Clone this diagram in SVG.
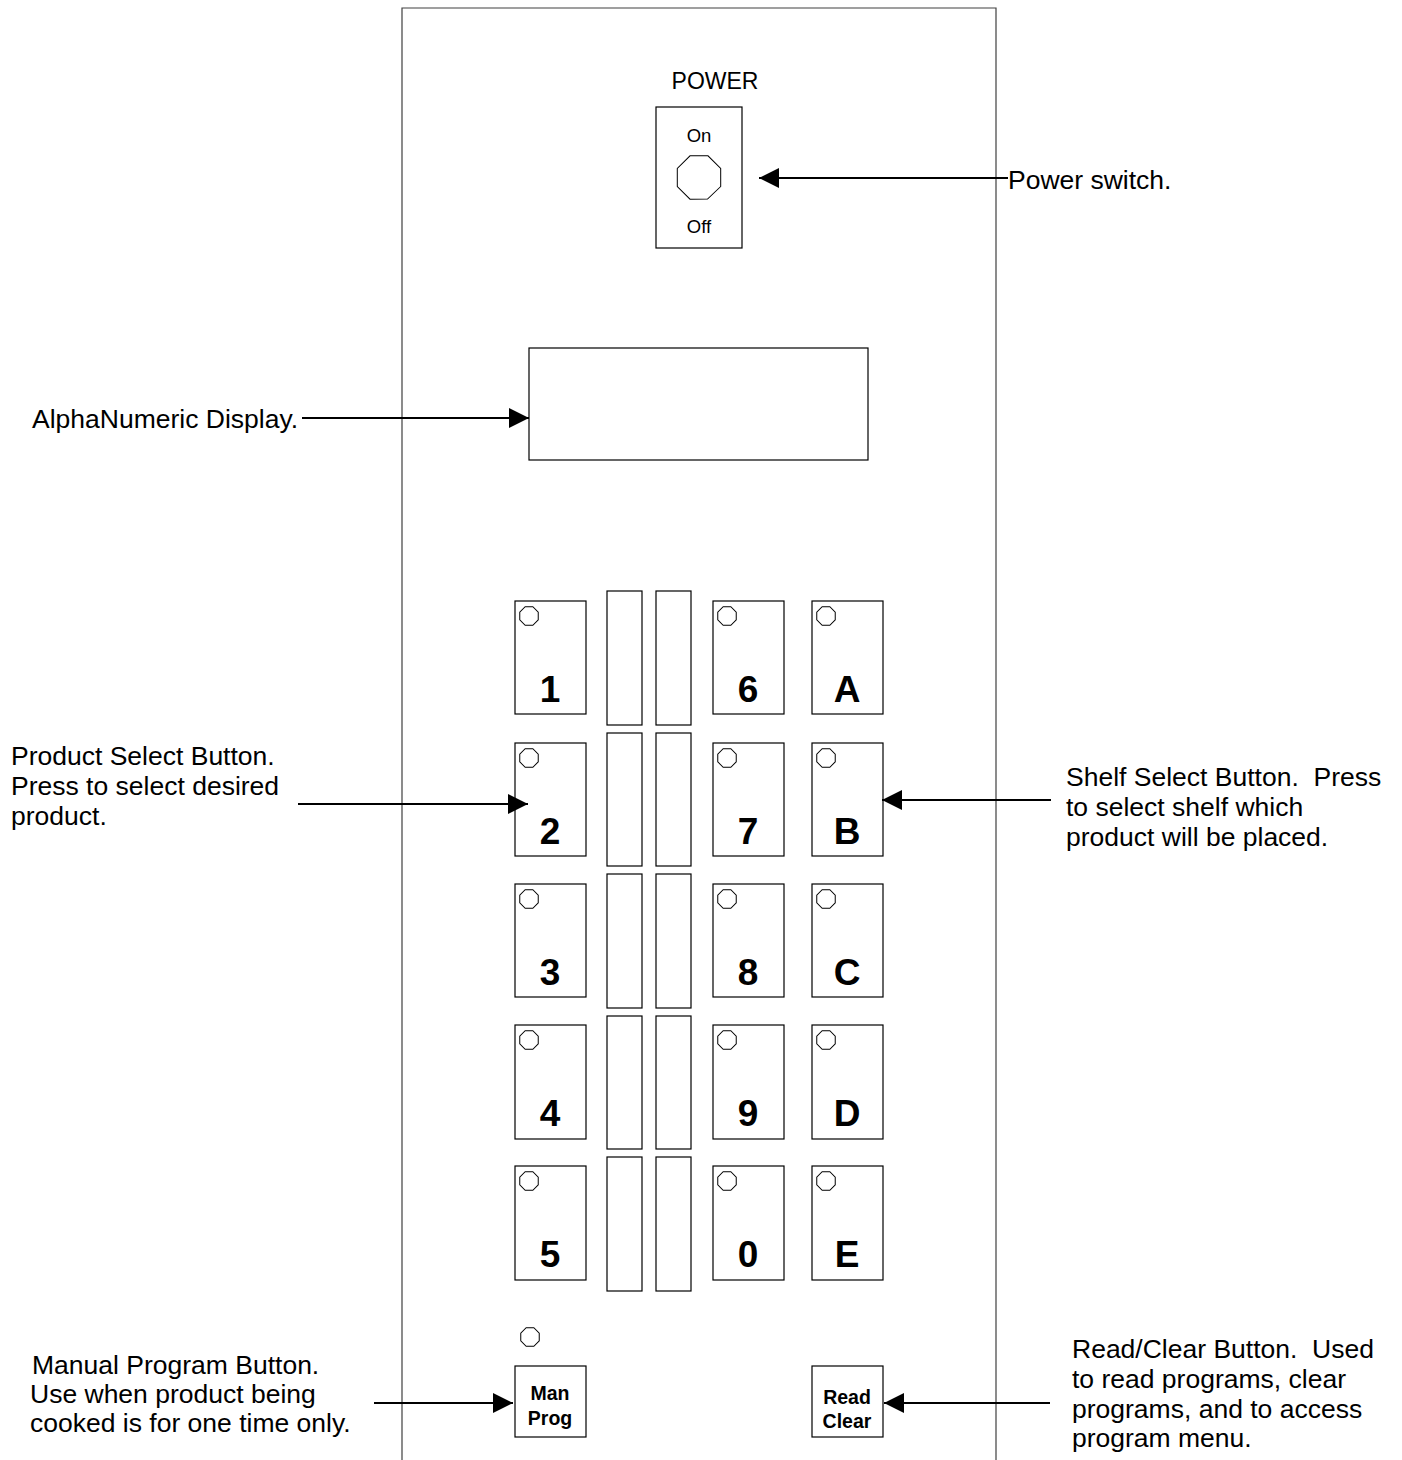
<svg xmlns="http://www.w3.org/2000/svg" width="1402" height="1460" viewBox="0 0 1402 1460">
<style>
.box{fill:#fff;stroke:#000;stroke-width:1.2}
.led{fill:#fff;stroke:#000;stroke-width:1}
.lbl{font-family:"Liberation Sans",Arial,sans-serif;font-size:26.5px;fill:#000;white-space:pre}
.key{font-family:"Liberation Sans",Arial,sans-serif;font-size:37px;font-weight:bold;fill:#000;text-anchor:middle}
.small{font-family:"Liberation Sans",Arial,sans-serif;font-size:19.5px;font-weight:bold;fill:#000;text-anchor:middle}
.conn{stroke:#000;stroke-width:2;fill:none;marker-end:url(#ah)}
</style>
<defs>
<marker id="ah" markerUnits="userSpaceOnUse" markerWidth="22" markerHeight="20" refX="20" refY="10" orient="auto">
<path d="M0,0 L20,10 L0,20 Z" fill="#000"/>
</marker>
<polygon id="oct" points="10,0 7.07,7.07 0,10 -7.07,7.07 -10,0 -7.07,-7.07 0,-10 7.07,-7.07" transform="rotate(22.5)"/>
</defs>
<rect width="1402" height="1460" fill="#fff"/>
<g id="panel">
<path d="M402,1460 V8 H996 V1460" fill="none" stroke="#404040" stroke-width="1.2"/>
</g>
<g id="power">
<text class="lbl" x="715" y="89" text-anchor="middle" style="font-size:23px">POWER</text>
<rect class="box" x="656" y="107" width="86" height="141"/>
<text class="lbl" x="699" y="142" text-anchor="middle" style="font-size:18.5px">On</text>
<text class="lbl" x="699" y="233" text-anchor="middle" style="font-size:18.5px">Off</text>
<polygon class="led" points="722.5,177.5 715.1,194.1 699,201 682.4,194.1 675.5,177.5 682.4,160.9 699,154 715.6,160.9" transform="rotate(22.5 699 177.5)"/>
</g>
<g id="display">
<rect class="box" x="529" y="348" width="339" height="112"/>
</g>
<g id="slots">
<rect class="box" x="607" y="591" width="35" height="134"/>
<rect class="box" x="656" y="591" width="35" height="134"/>
<rect class="box" x="607" y="733" width="35" height="133"/>
<rect class="box" x="656" y="733" width="35" height="133"/>
<rect class="box" x="607" y="874" width="35" height="134"/>
<rect class="box" x="656" y="874" width="35" height="134"/>
<rect class="box" x="607" y="1016" width="35" height="133"/>
<rect class="box" x="656" y="1016" width="35" height="133"/>
<rect class="box" x="607" y="1157" width="35" height="134"/>
<rect class="box" x="656" y="1157" width="35" height="134"/>
</g>
<g id="key-1"><rect class="box" x="515" y="601" width="71" height="113"/><use href="#oct" x="529" y="616" class="led"/><text class="key" x="550" y="702">1</text></g>
<g id="key-2"><rect class="box" x="515" y="743" width="71" height="113"/><use href="#oct" x="529" y="758" class="led"/><text class="key" x="550" y="844">2</text></g>
<g id="key-3"><rect class="box" x="515" y="884" width="71" height="113"/><use href="#oct" x="529" y="899" class="led"/><text class="key" x="550" y="985">3</text></g>
<g id="key-4"><rect class="box" x="515" y="1025" width="71" height="114"/><use href="#oct" x="529" y="1040" class="led"/><text class="key" x="550" y="1126">4</text></g>
<g id="key-5"><rect class="box" x="515" y="1166" width="71" height="114"/><use href="#oct" x="529" y="1181" class="led"/><text class="key" x="550" y="1267">5</text></g>
<g id="key-6"><rect class="box" x="713" y="601" width="71" height="113"/><use href="#oct" x="727" y="616" class="led"/><text class="key" x="748" y="702">6</text></g>
<g id="key-7"><rect class="box" x="713" y="743" width="71" height="113"/><use href="#oct" x="727" y="758" class="led"/><text class="key" x="748" y="844">7</text></g>
<g id="key-8"><rect class="box" x="713" y="884" width="71" height="113"/><use href="#oct" x="727" y="899" class="led"/><text class="key" x="748" y="985">8</text></g>
<g id="key-9"><rect class="box" x="713" y="1025" width="71" height="114"/><use href="#oct" x="727" y="1040" class="led"/><text class="key" x="748" y="1126">9</text></g>
<g id="key-0"><rect class="box" x="713" y="1166" width="71" height="114"/><use href="#oct" x="727" y="1181" class="led"/><text class="key" x="748" y="1267">0</text></g>
<g id="key-A"><rect class="box" x="812" y="601" width="71" height="113"/><use href="#oct" x="826" y="616" class="led"/><text class="key" x="847" y="702">A</text></g>
<g id="key-B"><rect class="box" x="812" y="743" width="71" height="113"/><use href="#oct" x="826" y="758" class="led"/><text class="key" x="847" y="844">B</text></g>
<g id="key-C"><rect class="box" x="812" y="884" width="71" height="113"/><use href="#oct" x="826" y="899" class="led"/><text class="key" x="847" y="985">C</text></g>
<g id="key-D"><rect class="box" x="812" y="1025" width="71" height="114"/><use href="#oct" x="826" y="1040" class="led"/><text class="key" x="847" y="1126">D</text></g>
<g id="key-E"><rect class="box" x="812" y="1166" width="71" height="114"/><use href="#oct" x="826" y="1181" class="led"/><text class="key" x="847" y="1267">E</text></g>
<g id="man-prog">
<use href="#oct" x="530" y="1337" class="led"/>
<rect class="box" x="515" y="1366" width="71" height="71"/>
<text class="small" x="550" y="1400">Man</text>
<text class="small" x="550" y="1425">Prog</text>
</g>
<g id="read-clear">
<rect class="box" x="812" y="1366" width="71" height="71"/>
<text class="small" x="847" y="1404">Read</text>
<text class="small" x="847" y="1428">Clear</text>
</g>
<g id="labels">
<text class="lbl" x="1008" y="189">Power switch.</text>
<text class="lbl" x="32" y="428">AlphaNumeric Display.</text>
<text class="lbl" x="11" y="765">Product Select Button.</text>
<text class="lbl" x="11" y="795">Press to select desired</text>
<text class="lbl" x="11" y="825">product.</text>
<text class="lbl" x="1066" y="786" xml:space="preserve">Shelf Select Button.  Press</text>
<text class="lbl" x="1066" y="816">to select shelf which</text>
<text class="lbl" x="1066" y="846">product will be placed.</text>
<text class="lbl" x="32" y="1374">Manual Program Button.</text>
<text class="lbl" x="30" y="1403">Use when product being</text>
<text class="lbl" x="30" y="1432">cooked is for one time only.</text>
<text class="lbl" x="1072" y="1358" xml:space="preserve">Read/Clear Button.  Used</text>
<text class="lbl" x="1072" y="1388">to read programs, clear</text>
<text class="lbl" x="1072" y="1418">programs, and to access</text>
<text class="lbl" x="1072" y="1447">program menu.</text>
</g>
<g id="connectors">
<line class="conn" x1="1008" y1="178" x2="759" y2="178"/>
<line class="conn" x1="302" y1="418" x2="529" y2="418"/>
<line class="conn" x1="298" y1="804" x2="528" y2="804"/>
<line class="conn" x1="1051" y1="800" x2="882" y2="800"/>
<line class="conn" x1="374" y1="1403" x2="513" y2="1403"/>
<line class="conn" x1="1050" y1="1403" x2="884" y2="1403"/>
</g>
</svg>
